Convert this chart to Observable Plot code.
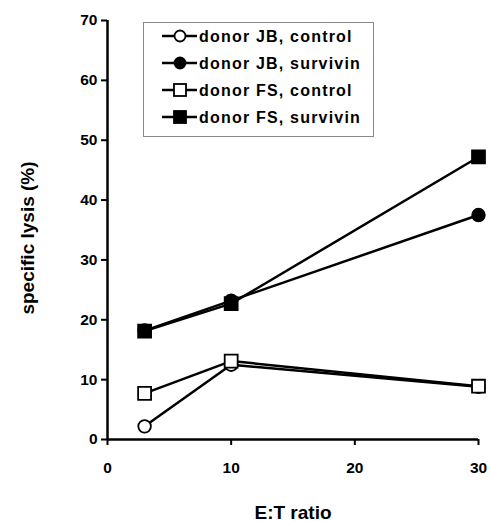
<!DOCTYPE html>
<html>
<head>
<meta charset="utf-8">
<script src="https://cdn.jsdelivr.net/npm/d3@7"></script>
<script src="https://cdn.jsdelivr.net/npm/@observablehq/plot@0.6"></script>
<style>
  body { margin: 0; background: #fff; }
  #wrap { position: relative; width: 491px; height: 521px; font-family: "Liberation Sans", Arial, sans-serif; }
  #legend { position: absolute; left: 143px; top: 22px; width: 231px; height: 115px; border: 1px solid #888; background: #fff; box-sizing: border-box; }
</style>
</head>
<body>
<div id="wrap"><div id="chart"></div><div id="legend"></div></div>
<script>
const ratios = [3, 10, 30];
const seriesNames = ["donor JB, control", "donor JB, survivin", "donor FS, control", "donor FS, survivin"];
const jbControl = [2.2, 12.5, 8.8];
const jbSurvivin = [18.2, 23.2, 37.5];
const fsControl = [7.7, 13.1, 8.9];
const fsSurvivin = [18.1, 22.7, 47.2];
const xTicks = [0, 10, 20, 30];
const yTicks = [0, 10, 20, 30, 40, 50, 60, 70];
const symbols = ["circle", "circle", "square", "square"];
const fills = ["white", "black", "white", "black"];

const allSeries = [jbControl, jbSurvivin, fsControl, fsSurvivin];
const data = [];
allSeries.forEach((vals, i) => vals.forEach((v, j) => data.push({
  series: seriesNames[i], x: ratios[j], y: v, symbol: symbols[i], fill: fills[i], order: i
})));

const font = "Liberation Sans, Arial, sans-serif";
const plot = Plot.plot({
  width: 491, height: 521,
  marginLeft: 107, marginRight: 13, marginTop: 20, marginBottom: 82,
  style: { fontFamily: font, background: "white" },
  x: { domain: [0, 30] },
  y: { domain: [0, 70] },
  marks: [
    Plot.axisY({ ticks: yTicks, tickSize: 6, tickPadding: 4, fontSize: 15.5, fontWeight: "bold", label: null, strokeWidth: 2 }),
    Plot.axisX({ ticks: xTicks, tickSize: 6, tickPadding: 16, fontSize: 15.5, fontWeight: "bold", label: null, strokeWidth: 2 }),
    Plot.ruleX([0], { y1: 0, y2: 70, stroke: "black", strokeWidth: 2.5 }),
    Plot.ruleY([0], { x1: 0, x2: 30, stroke: "black", strokeWidth: 2.5 }),
    Plot.line(data, { x: "x", y: "y", z: "series", stroke: "black", strokeWidth: 2.5 }),
    Plot.dot(data.filter(d => d.symbol === "circle"), { x: "x", y: "y", symbol: "circle", r: 6.3, fill: d => d.fill, stroke: "black", strokeWidth: 1.8 }),
    Plot.dot(data.filter(d => d.symbol === "square"), { x: "x", y: "y", symbol: "square", r: 7.3, fill: d => d.fill, stroke: "black", strokeWidth: 1.8 }),
    Plot.text(["E:T ratio"], { frameAnchor: "bottom", dy: 79, fontSize: 19, fontWeight: "bold", fill: "black" }),
    Plot.text(["specific lysis (%)"], { frameAnchor: "left", textAnchor: "middle", dx: -80, dy: 8, rotate: -90, fontSize: 19, fontWeight: "bold", fill: "black" })
  ]
});
document.getElementById("chart").appendChild(plot);

// legend
const leg = d3.select("#legend").append("svg").attr("width", 229).attr("height", 113);
seriesNames.forEach((name, i) => {
  const cy = 13 + i * 27;
  const g = leg.append("g").attr("transform", `translate(0,${cy})`);
  g.append("line").attr("x1", 18).attr("x2", 53).attr("y1", 0).attr("y2", 0).attr("stroke", "black").attr("stroke-width", 2.5);
  if (symbols[i] === "circle") {
    g.append("circle").attr("cx", 36).attr("cy", 0).attr("r", 5.5).attr("fill", fills[i]).attr("stroke", "black").attr("stroke-width", 1.8);
  } else {
    g.append("rect").attr("x", 30).attr("y", -6).attr("width", 12).attr("height", 12).attr("fill", fills[i]).attr("stroke", "black").attr("stroke-width", 1.8);
  }
  g.append("text").attr("x", 55).attr("y", 0).attr("dy", "0.35em").attr("font-family", font).attr("font-size", 16).attr("letter-spacing", "1.2px").attr("font-weight", "bold").text(name);
});
</script>
</body>
</html>
